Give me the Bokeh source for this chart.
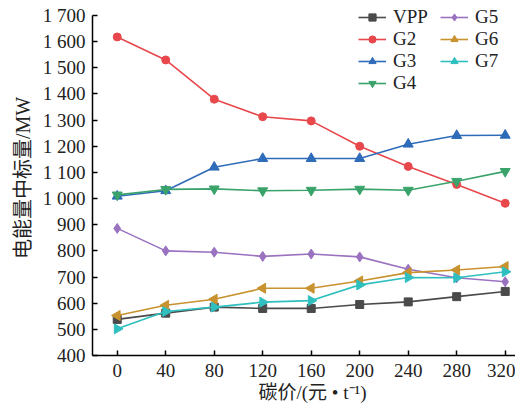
import numpy as np
from bokeh.plotting import figure
from bokeh.models import Legend, LegendItem, FixedTicker, Range1d, Title
from bokeh.embed import file_html
from bokeh.resources import INLINE

# ---- data ----
carbon_price = [0, 40, 80, 120, 160, 200, 240, 280, 320]
VPP = [538, 562, 585, 580, 580, 595, 605, 625, 645]
G2 = [1618, 1530, 1380, 1313, 1297, 1200, 1123, 1054, 982]
G3 = [1009, 1030, 1120, 1153, 1153, 1153, 1208, 1241, 1242]
G4 = [1014, 1035, 1037, 1030, 1032, 1036, 1032, 1066, 1104]
G5 = [886, 800, 795, 779, 788, 777, 730, 697, 682]
G6 = [553, 592, 615, 657, 657, 685, 717, 727, 740]
G7 = [502, 568, 585, 604, 610, 670, 698, 697, 720]

x_ticks = [0, 40, 80, 120, 160, 200, 240, 280, 320]
y_ticks = [400, 500, 600, 700, 800, 900, 1000, 1100, 1200, 1300, 1400, 1500, 1600, 1700]
y_tick_labels = ["400", "500", "600", "700", "800", "900", "1 000", "1 100",
                 "1 200", "1 300", "1 400", "1 500", "1 600", "1 700"]

series_names = ["VPP", "G2", "G3", "G4", "G5", "G6", "G7"]
series_values = [VPP, G2, G3, G4, G5, G6, G7]
series_colors = ["#4a4a4a", "#e8484c", "#2e6bb8", "#3aa36b", "#9a72c0", "#c8922e", "#2fbfbf"]
series_markers = ["square", "circle", "triangle", "inverted_triangle", "diamond", "triangle", "triangle"]
series_angles = [0, 0, 0, 0, 0, np.pi / 2, -np.pi / 2]
series_sizes = [8, 8, 10, 10, 10, 10, 10]

FONT = "Liberation Serif, Noto Sans CJK SC"

# frame: top at 0 (range extended above 1700 so the legend is not clipped), axis drawn to 1700 only
p = figure(width=515, height=408, x_range=Range1d(-20.4, 328.5), y_range=Range1d(400, 1757.35),
           output_backend="svg", toolbar_location=None,
           min_border_left=92, min_border_right=0, min_border_top=0, min_border_bottom=53)
p.outline_line_color = None
p.grid.visible = False
p.background_fill_color = "white"
p.border_fill_color = "white"

items = []
for name, vals, col, mk, ang, sz in zip(series_names, series_values, series_colors,
                                        series_markers, series_angles, series_sizes):
    r1 = p.line(carbon_price, vals, line_color=col, line_width=1.6)
    r2 = p.scatter(carbon_price, vals, marker=mk, angle=ang, size=sz,
                   fill_color=col, line_color=col)
    items.append(LegendItem(label=name, renderers=[r1, r2]))

# axes
for ax in (p.xaxis[0], p.yaxis[0]):
    ax.axis_line_color = "black"
    ax.axis_line_width = 1.5
    ax.major_tick_line_color = "black"
    ax.major_tick_line_width = 1.5
    ax.major_tick_in = 5
    ax.major_tick_out = 0
    ax.minor_tick_line_color = None
    ax.major_label_text_font = FONT
    ax.major_label_text_font_size = "19px"
    ax.major_label_text_color = "#222222"

p.xaxis.ticker = FixedTicker(ticks=x_ticks)
p.xaxis.major_label_standoff = 8
p.yaxis.ticker = FixedTicker(ticks=y_ticks)
p.yaxis.bounds = (400, 1700)
p.yaxis.major_label_overrides = {t: l for t, l in zip(y_ticks, y_tick_labels)}
p.yaxis.major_label_standoff = 7
p.yaxis.axis_label = "电能量中标量/MW"
p.yaxis.axis_label_text_font = FONT
p.yaxis.axis_label_text_font_size = "20px"
p.yaxis.axis_label_text_font_style = "normal"
p.yaxis.axis_label_text_color = "#222222"
p.yaxis.axis_label_standoff = 6

xtitle = Title(text="碳价/(元 • t⁻¹)", align="left", offset=166,
               text_font=FONT, text_font_size="19px", text_font_style="normal",
               text_color="#222222", standoff=0)
p.add_layout(xtitle, "below")

# legends
def make_legend(its, loc):
    lg = Legend(items=its, location=loc, orientation="vertical")
    lg.background_fill_alpha = 0
    lg.border_line_color = None
    lg.padding = 0
    lg.margin = 0
    lg.spacing = 0
    lg.glyph_width = 28
    lg.glyph_height = 18
    lg.label_height = 18
    lg.label_standoff = 7
    lg.label_text_font = FONT
    lg.label_text_font_size = "19px"
    lg.label_text_color = "#222222"
    return lg

p.add_layout(make_legend(items[:4], (266, 261)))
p.add_layout(make_legend(items[4:], (348, 283)))

open("out.html", "w").write(file_html(p, INLINE))
